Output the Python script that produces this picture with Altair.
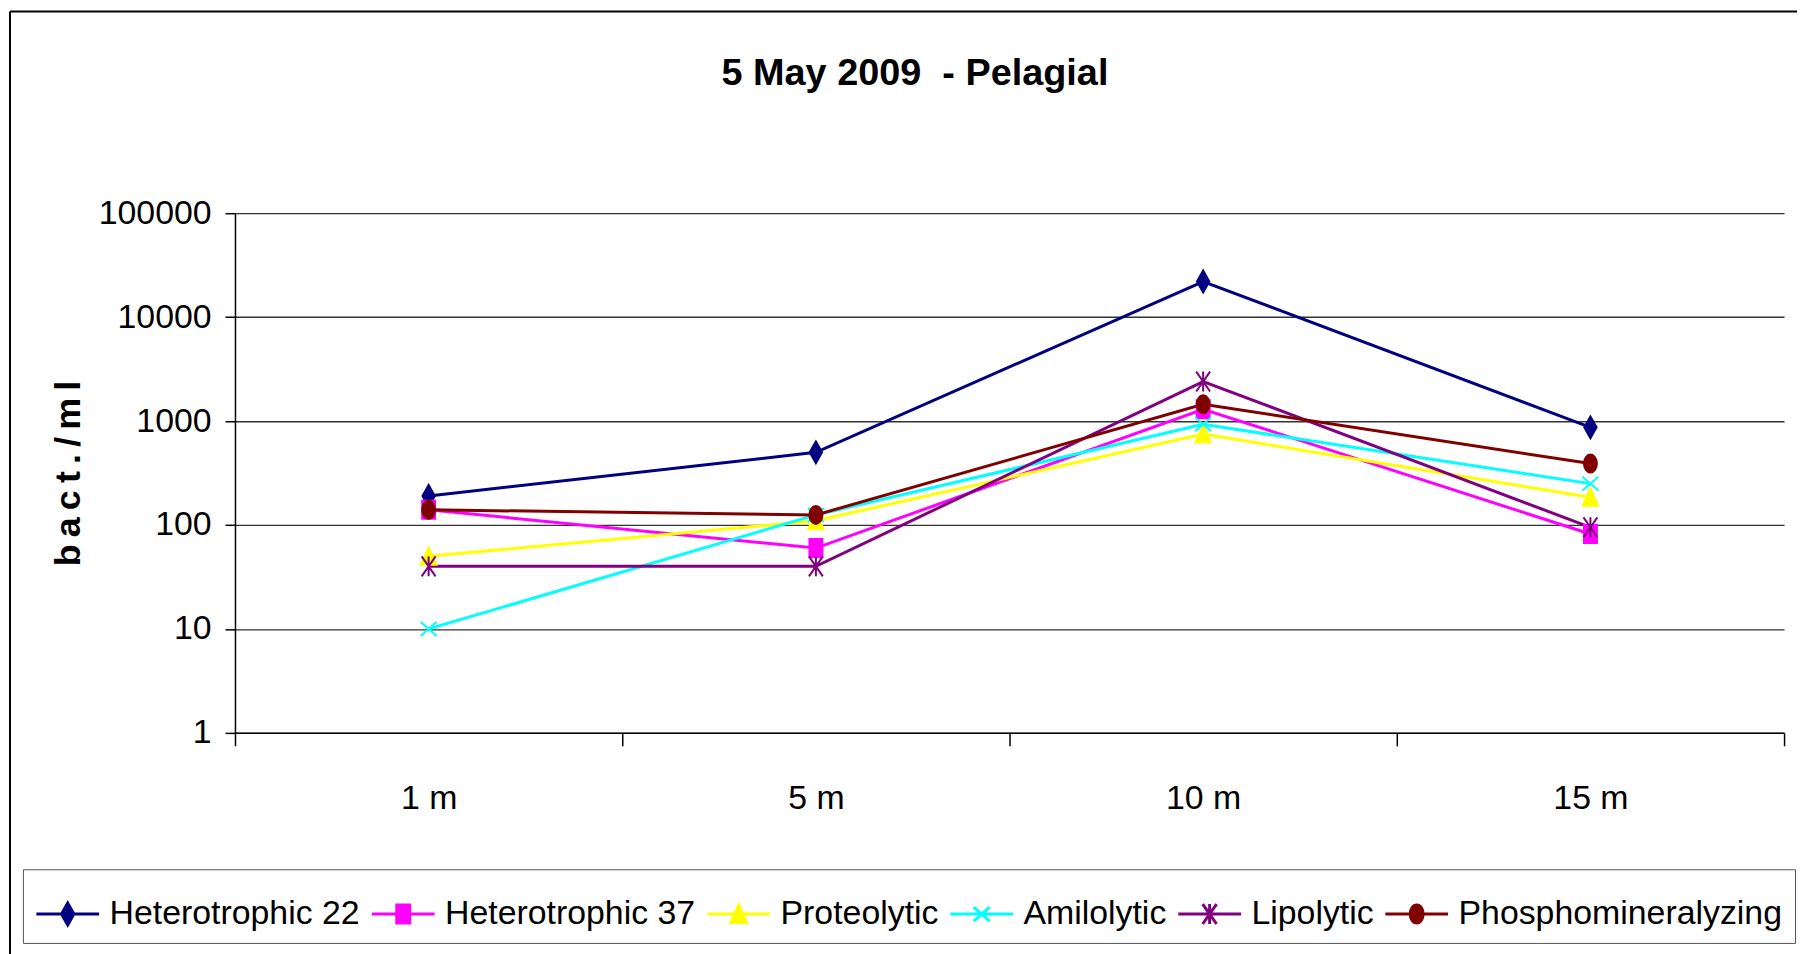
import altair as alt
import pandas as pd

# ---------------- data ----------------
depths = ["1 m", "5 m", "10 m", "15 m"]
series = ["Heterotrophic 22", "Heterotrophic 37", "Proteolytic",
          "Amilolytic", "Lipolytic", "Phosphomineralyzing"]
heterotrophic_22 = [190, 500, 22000, 870]
heterotrophic_37 = [140, 60, 1300, 82]
proteolytic = [50, 110, 750, 185]
amilolytic = [10, 125, 930, 250]
lipolytic = [40, 40, 2400, 95]
phosphomineralyzing = [140, 125, 1450, 390]
y_ticks = [1, 10, 100, 1000, 10000, 100000]
title_text = "5 May 2009\u00a0 - Pelagial"
y_title = "b\u2009a\u2009c\u2009t\u2009.\u2009/\u2009m\u2009l"

values_by_series = [heterotrophic_22, heterotrophic_37, proteolytic,
                    amilolytic, lipolytic, phosphomineralyzing]
rows = []
for name, vals in zip(series, values_by_series):
    for d, v in zip(depths, vals):
        rows.append({"series": name, "depth": d, "value": v})
df = pd.DataFrame(rows)

# ---------------- style ----------------
colors = ["#000080", "#FF00FF", "#FFFF00", "#00FFFF", "#800080", "#800000"]
FONT = "Liberation Sans"


def marker_paths(s, with_line=False):
    f = lambda v: f"{v * s:.3f}"
    shapes = [
        f"M0,{f(-1.1)}L{f(0.62)},0L0,{f(1.1)}L{f(-0.62)},0Z",
        f"M{f(-0.65)},{f(-0.9)}L{f(0.65)},{f(-0.9)}L{f(0.65)},{f(0.9)}L{f(-0.65)},{f(0.9)}Z",
        f"M0,{f(-0.9)}L{f(0.78)},{f(0.85)}L{f(-0.78)},{f(0.85)}Z",
        f"M{f(-0.8)},{f(-0.7)}L{f(0.8)},{f(0.7)}M{f(-0.8)},{f(0.7)}L{f(0.8)},{f(-0.7)}",
        f"M{f(-0.7)},{f(-1)}L{f(0.7)},{f(1)}M{f(-0.7)},{f(1)}L{f(0.7)},{f(-1)}M0,{f(-1)}L0,{f(1)}",
        f"M0,{f(-0.9)}A{f(0.65)},{f(0.9)} 0 1,1 0,{f(0.9)}A{f(0.65)},{f(0.9)} 0 1,1 0,{f(-0.9)}Z",
    ]
    if with_line:
        shapes = ["M-1,0L1,0" + p for p in shapes]
    return shapes


plot_paths = marker_paths(1.0)
legend_paths = marker_paths(10 / 31.5, with_line=True)

W, H = 1556, 522
PAD = {"left": 228, "top": 204, "right": 13, "bottom": 220}

x_enc = alt.X("depth:N", sort=depths, bandPosition=0.5, title=None,
              scale=alt.Scale(type="band", domain=depths, paddingInner=0, paddingOuter=0),
              axis=alt.Axis(tickBand="extent", tickSize=13, tickColor="black", tickWidth=1.5,
                            domainColor="black", domainWidth=1.5, labelAngle=0,
                            labelFont=FONT, labelFontSize=34, labelColor="black",
                            labelPadding=36, grid=False))
y_enc = alt.Y("value:Q", title=y_title,
              scale=alt.Scale(type="log", domain=[1, 100000]),
              axis=alt.Axis(values=y_ticks, format="d", tickSize=10, tickColor="black",
                            tickWidth=1.5, domainColor="black", domainWidth=1.5,
                            grid=True, gridColor="#333333", gridWidth=1.3,
                            labelFont=FONT, labelFontSize=34, labelColor="black",
                            labelPadding=14,
                            titleFont=FONT, titleFontSize=36,
                            titleFontWeight="bold", titleColor="black",
                            titleX=-167, titleY=H / 2, titleAngle=-90,
                            titleAlign="center", titleBaseline="middle"))

color_scale = alt.Scale(domain=series, range=colors)

frame_df = pd.DataFrame({"f": [0]})
frame_left = alt.Chart(frame_df).mark_rule(color="black", strokeWidth=2).encode(
    x=alt.value(-226), y=alt.value(-202.7), y2=alt.value(760))
frame_top = alt.Chart(frame_df).mark_rule(color="black", strokeWidth=2).encode(
    x=alt.value(-226), x2=alt.value(1570), y=alt.value(-202.7))

base = alt.Chart(df)

lines = base.mark_line(strokeWidth=3).encode(
    x=x_enc, y=y_enc,
    color=alt.Color("series:N", scale=color_scale, legend=None),
    detail="series:N",
)

points = base.mark_point(size=400, strokeWidth=2, opacity=1, filled=True).encode(
    x=x_enc, y=y_enc,
    fill=alt.Fill("series:N", scale=color_scale, legend=None),
    stroke=alt.Stroke("series:N", scale=color_scale, legend=None),
    shape=alt.Shape("series:N", scale=alt.Scale(domain=series, range=plot_paths), legend=None),
)

legend_spec = alt.Legend(
    title=None, orient="none", legendX=-213, legendY=659,
    direction="horizontal", columns=6, columnPadding=5,
    symbolSize=3969, symbolStrokeWidth=3, symbolOpacity=1, labelOffset=9,
    labelFont=FONT, labelFontSize=34, labelColor="black", labelLimit=0,
    padding=12, strokeColor="#555555", fillColor="white",
)

legend_layer = base.transform_filter("datum.value < 0").mark_point(
    filled=True, strokeWidth=3, opacity=1
).encode(
    x=x_enc, y=y_enc,
    fill=alt.Fill("series:N", scale=alt.Scale(domain=series, range=colors), legend=legend_spec),
    stroke=alt.Stroke("series:N", scale=alt.Scale(domain=series, range=colors), legend=legend_spec),
    shape=alt.Shape("series:N", scale=alt.Scale(domain=series, range=legend_paths), legend=legend_spec),
)

chart = alt.layer(frame_left, frame_top, lines, points, legend_layer).resolve_scale(
    shape="independent", fill="independent", stroke="independent"
).properties(
    width=W, height=H,
    title=alt.Title(title_text, font=FONT, fontSize=38, fontWeight="bold",
                    color="black", anchor="middle", frame="group", dx=-95,
                    offset=0, dy=113, baseline="alphabetic"),
    autosize=alt.AutoSizeParams(type="none"),
    padding=PAD,
    background="white",
).configure_view(stroke=None)

chart.save("out.html", embed_options={"renderer": "svg", "actions": False})
